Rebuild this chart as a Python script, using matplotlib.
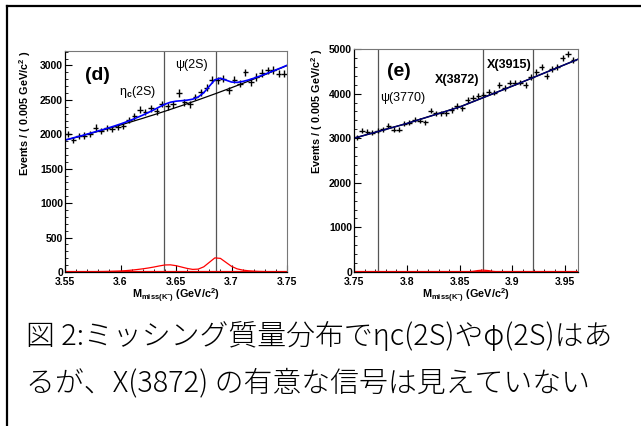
#!/usr/bin/env python3
"""Missing-mass spectra (d) and (e) with fit curves and Japanese caption"""
import numpy as np
import matplotlib
matplotlib.use('Agg')
import matplotlib.pyplot as plt
from matplotlib.ticker import AutoMinorLocator, MultipleLocator, FixedLocator
from matplotlib.lines import Line2D

plt.rcParams['font.family'] = ['Liberation Sans', 'DejaVu Sans']
plt.rcParams['font.weight'] = 'bold'
plt.rcParams['axes.labelweight'] = 'bold'
plt.rcParams['mathtext.fontset'] = 'custom'
plt.rcParams['mathtext.rm'] = 'Liberation Sans'
plt.rcParams['mathtext.it'] = 'Liberation Sans:italic'
plt.rcParams['mathtext.bf'] = 'Liberation Sans:bold'

BIN = 0.005

# ── panel (d): 3.55 - 3.75 ───────────────────────────────────────────────────
d_counts = [2010, 1915, 1973, 1982, 2001, 2098, 2050, 2093, 2079, 2103,
            2122, 2209, 2262, 2358, 2325, 2378, 2334, 2440, 2407, 2436,
            2600, 2465, 2436, 2542, 2609, 2677, 2792, 2783, 2807, 2638,
            2792, 2735, 2899, 2759, 2831, 2889, 2928, 2937, 2879, 2879]
d_centers = 3.5525 + BIN * np.arange(len(d_counts))

# fit curves sampled every 0.005 from 3.55 to 3.75
d_fit_x = 3.55 + BIN * np.arange(41)
d_bkg = [1915, 1935, 1956, 1977, 1999, 2021, 2043, 2065, 2088, 2111,
         2135, 2159, 2183, 2208, 2232, 2258, 2283, 2309, 2335, 2362,
         2389, 2416, 2444, 2472, 2500, 2529, 2558, 2587, 2617, 2647,
         2677, 2708, 2739, 2770, 2802, 2834, 2866, 2899, 2932, 2965, 2999]
d_sig = [2, 2, 3, 3, 4, 5, 6, 7, 9, 12,
         15, 20, 27, 36, 46, 58, 72, 88, 102, 104,
         92, 72, 52, 38, 42, 75, 140, 205, 198, 140,
         82, 46, 28, 18, 12, 8, 6, 5, 4, 3, 3]
d_lines = [3.6394, 3.6861]
d_xticks = [3.55, 3.6, 3.65, 3.7, 3.75]
d_xticklabels = ['3.55', '3.6', '3.65', '3.7', '3.75']

# ── panel (e): 3.75 - 3.96 ───────────────────────────────────────────────────
e_counts = [3022, 3172, 3149, 3127, 3172, 3202, 3276, 3187, 3187, 3321,
            3351, 3411, 3396, 3358, 3619, 3560, 3560, 3560, 3634, 3724,
            3672, 3858, 3911, 3940, 3978, 4038, 4023, 4194, 4120, 4247,
            4247, 4247, 4194, 4381, 4493, 4605, 4396, 4552, 4605, 4791,
            4888, 4754]
e_centers = 3.7525 + BIN * np.arange(len(e_counts))

e_fit_x = [3.75, 3.80, 3.85, 3.90, 3.962]
e_bkg = [3000, 3330, 3700, 4170, 4770]
e_sig_x = [3.75, 3.855, 3.862, 3.867, 3.872, 3.877, 3.882, 3.889, 3.962]
e_sig = [0, 0, 12, 32, 42, 32, 12, 0, 0]
e_lines = [3.7724, 3.8720, 3.9190]
e_xticks = [3.75, 3.8, 3.85, 3.9, 3.95]
e_xticklabels = ['3.75', '3.8', '3.85', '3.9', '3.95']

W, H = 641, 426
fig = plt.figure(figsize=(W / 100, H / 100), dpi=100)
fig.patch.set_facecolor('white')

# outer frame (left and top only)
fig.add_artist(Line2D([7 / W, 7 / W], [0, 1 - 6 / H], color='black', lw=1.6))
fig.add_artist(Line2D([7 / W, 1], [1 - 6 / H, 1 - 6 / H], color='black', lw=1.6))

ax_d = fig.add_axes([65 / W, 1 - 272 / H, 222 / W, 221 / H])
ax_e = fig.add_axes([354 / W, 1 - 272 / H, 224 / W, 223 / H])

YLAB = r'Events / ( 0.005 GeV/c$^{\mathbf{2}}$ )'
XLAB = r'M$_{\mathbf{miss(K^{-})}}$ (GeV/c$^{\mathbf{2}}$)'


def style(ax, xlim, ylim, xticks, xticklabels, ymaj, ylab_x):
    ax.set_xlim(*xlim); ax.set_ylim(*ylim)
    ax.xaxis.set_major_locator(FixedLocator(xticks))
    ax.set_xticklabels(xticklabels)
    ax.yaxis.set_major_locator(MultipleLocator(ymaj))
    ax.xaxis.set_minor_locator(MultipleLocator(0.01))
    ax.yaxis.set_minor_locator(AutoMinorLocator(5))
    ax.tick_params(which='both', direction='in', top=False, right=False,
                   labelsize=7.5)
    ax.tick_params(axis='x', pad=3.8)
    ax.tick_params(axis='y', pad=1.5)
    ax.tick_params(which='major', length=5, width=0.8)
    ax.tick_params(which='minor', length=2.5, width=0.6)
    for s in ['top', 'right']:
        ax.spines[s].set_color('#777777'); ax.spines[s].set_linewidth(0.8)
    for s in ['left', 'bottom']:
        ax.spines[s].set_linewidth(0.9)
    ax.set_ylabel(YLAB, fontsize=7.8, loc='top')
    ax.yaxis.set_label_coords(ylab_x, 1.0)
    ax.set_xlabel(XLAB, fontsize=7.8, labelpad=0)


# ── (d) ──────────────────────────────────────────────────────────────────────
for v in d_lines:
    ax_d.axvline(v, color='#555555', lw=0.9)
ax_d.errorbar(d_centers, d_counts, xerr=BIN / 2, yerr=np.sqrt(d_counts),
              fmt='none', ecolor='black', elinewidth=1.0, capsize=0)
ax_d.plot(d_fit_x, d_bkg, color='black', lw=0.9)
ax_d.plot(d_fit_x, np.add(d_bkg, d_sig), color='#0000ff', lw=1.2)
ax_d.axhline(0, color='red', lw=1.6)
ax_d.plot(d_fit_x, d_sig, color='red', lw=0.9)
ax_d.text(3.5788, 2860, '(d)', fontsize=14, ha='center', va='center')
ax_d.text(3.6158, 2612, r'η$_{\mathrm{c}}$(2S)', fontsize=9, fontweight='normal',
          ha='center', va='center')
ax_d.text(3.6635, 3004, 'ψ(2S)', fontsize=9, fontweight='normal', ha='center', va='center')
style(ax_d, (3.55, 3.75), (0, 3210), d_xticks, d_xticklabels, 500, -0.145)

# ── (e) ──────────────────────────────────────────────────────────────────────
for v in e_lines:
    ax_e.axvline(v, color='#555555', lw=0.9)
ax_e.errorbar(e_centers, e_counts, xerr=BIN / 2, yerr=np.sqrt(e_counts),
              fmt='none', ecolor='black', elinewidth=1.0, capsize=0)
ax_e.plot(e_fit_x, e_bkg, color='black', lw=1.1)
ax_e.plot(e_fit_x, e_bkg, color='#000080', lw=0.9)
ax_e.axhline(0, color='red', lw=1.6)
ax_e.plot(e_sig_x, e_sig, color='red', lw=0.9)
ax_e.text(3.7927, 4485, '(e)', fontsize=14, ha='center', va='center')
ax_e.text(3.7964, 3891, 'ψ(3770)', fontsize=9, fontweight='normal', ha='center', va='center')
ax_e.text(3.8476, 4306, 'X(3872)', fontsize=9, ha='center', va='center')
ax_e.text(3.8965, 4641, 'X(3915)', fontsize=9, ha='center', va='center')
style(ax_e, (3.75, 3.962), (0, 5000), e_xticks, e_xticklabels, 1000, -0.13)

# ── caption ──────────────────────────────────────────────────────────────────
CJK = ['Noto Sans CJK JP', 'DejaVu Sans']
fig.text(26 / W, 1 - 337 / H, '図 2:ミッシング質量分布でηc(2S)やφ(2S)はあ',
         fontsize=20.8, family=CJK, fontweight='light', va='center', ha='left')
fig.text(26 / W, 1 - 383 / H, 'るが、X(3872) の有意な信号は見えていない',
         fontsize=20.8, family=CJK, fontweight='light', va='center', ha='left')

plt.savefig('out.png', dpi=100)
plt.close()
